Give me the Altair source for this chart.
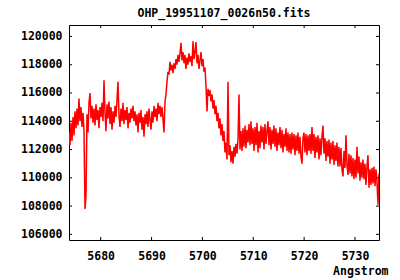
import altair as alt
import numpy as np
import pandas as pd

TITLE = "OHP_19951107_0026n50.fits"
X_TITLE = "Angstrom"

# linear dispersion of the spectrum (start wavelength and step, Angstrom)
WAVE_START = 5673.77
WAVE_STEP = 0.1966

FLUX = [
    113200, 112300, 113900, 112600, 114300, 113000, 114700, 113500, 114900, 113700,
    115600, 114000, 115000, 113600, 114600, 113300, 107800, 108700, 114500, 113200,
    115300, 116000, 114200, 115100, 113900, 114900, 113700, 115200, 114100, 114800,
    113500, 115000, 114300, 115300, 114000, 116900, 114600, 113300, 115200, 114200,
    115400, 113800, 115000, 113400, 114700, 113900, 115100, 114300, 115500, 116800,
    114400, 113600, 114900, 114000, 115300, 113800, 114800, 114100, 115000, 113500,
    114600, 113900, 114900, 114200, 115100, 114000, 114700, 113700, 114500, 113200,
    114600, 113900, 114800, 113400, 114300, 112900, 114500, 113800, 114700, 113600,
    114900, 114100, 113400, 114700, 113900, 115100, 114300, 114900, 114000, 115300,
    114500, 115100, 114300, 115000, 114200, 113200, 115400, 115900, 116800, 117500,
    117300, 118200, 117600, 118000, 117400, 118100, 117700, 118400, 118000, 118700,
    118200, 118800, 119550, 118300, 118900, 118100, 118700, 117700, 118500, 118000,
    118800, 118200, 118600, 117900, 119650, 118400, 118900, 119600, 118100, 118700,
    117700, 118300, 118900, 117900, 118400, 117500, 117800, 116500, 114700, 116300,
    115800, 116200, 115400, 115900, 114900, 115500, 114500, 115100, 114000, 114600,
    113500, 114200, 113000, 113800, 112600, 113300, 111800, 112500, 111300, 116800,
    111600, 112300, 111100, 111900, 111000, 112200, 111500, 112400, 111700, 112700,
    115900, 112000, 113300, 111900, 113500, 112200, 113700, 112100, 113400, 112500,
    113800, 112300, 114000, 112400, 113500, 111900, 113600, 112300, 113900, 111800,
    113300, 112100, 113700, 112500, 113600, 112000, 113800, 112400, 113300, 114000,
    112300, 113600, 112000, 113400, 112400, 113700, 112200, 113500, 111900, 113200,
    112300, 113600, 112100, 113400, 111800, 113100, 112200, 113500, 111900, 113200,
    111800, 113100, 111700, 113200, 112000, 113100, 111600, 113000, 111900, 113200,
    111700, 112900, 111500, 111000, 112800, 113200, 111800, 113100, 111600, 113000,
    111900, 113100, 111700, 113600, 111900, 113100, 111400, 112900, 111800, 113000,
    111300, 112800, 111600, 112900, 113700, 111700, 112800, 111200, 112600, 111500,
    112700, 111000, 112500, 111300, 112600, 110900, 112300, 111200, 112500, 110800,
    112200, 110800, 112100, 110600, 110100, 111900, 110700, 113000, 110900, 110200,
    111700, 110300, 111600, 110100, 111400, 109900, 111300, 110000, 112200, 110300,
    111500, 109800, 111100, 110000, 111300, 109900, 111000, 109500, 110800, 111600,
    109300, 110600, 109500, 110700, 109600, 110800, 109400, 110600, 109700, 108100,
    110300,
]

X_TICKS = [5680, 5690, 5700, 5710, 5720, 5730]
Y_TICKS = [106000, 108000, 110000, 112000, 114000, 116000, 118000, 120000]
X_DOMAIN = [5673.77, 5734.72]
Y_DOMAIN = [105600, 120810]

W, H = 310, 215
TICK_LEN = 3
FONT = "DejaVu Sans Mono"
FS = 11.5

spec = pd.DataFrame({
    "wave": WAVE_START + WAVE_STEP * np.arange(len(FLUX)),
    "flux": FLUX,
})
xt = pd.DataFrame({"wave": X_TICKS})
yt = pd.DataFrame({"flux": Y_TICKS})

xscale = alt.Scale(domain=X_DOMAIN, nice=False, zero=False)
yscale = alt.Scale(domain=Y_DOMAIN, nice=False, zero=False)

x_axis = alt.Axis(
    values=X_TICKS, title=X_TITLE, format="d", ticks=False, domain=False,
    grid=False, labelPadding=10, labelOverlap=False,
    labelExpr="datum.label + '\u00a0'",
    titleAlign="right", titleX=319, titleY=34, titleBaseline="alphabetic")
y_axis = alt.Axis(
    values=Y_TICKS, title=None, format="d", ticks=False, domain=False,
    grid=False, labelPadding=7, labelOverlap=False, labelBaseline="middle")

line = alt.Chart(spec).mark_line(color="#ff0000", strokeWidth=1.5, clip=True).encode(
    x=alt.X("wave:Q", scale=xscale, axis=x_axis),
    y=alt.Y("flux:Q", scale=yscale, axis=y_axis),
)

rule = dict(color="black", strokeWidth=1)
bottom = alt.Chart(xt).mark_rule(**rule).encode(
    x=alt.X("wave:Q", scale=xscale, axis=x_axis), y=alt.value(H), y2=alt.value(H - TICK_LEN))
top = alt.Chart(xt).mark_rule(**rule).encode(
    x=alt.X("wave:Q", scale=xscale, axis=x_axis), y=alt.value(0), y2=alt.value(TICK_LEN))
left = alt.Chart(yt).mark_rule(**rule).encode(
    y=alt.Y("flux:Q", scale=yscale, axis=y_axis), x=alt.value(0), x2=alt.value(TICK_LEN))
right = alt.Chart(yt).mark_rule(**rule).encode(
    y=alt.Y("flux:Q", scale=yscale, axis=y_axis), x=alt.value(W), x2=alt.value(W - TICK_LEN))

chart = alt.layer(line, bottom, top, left, right).properties(
    width=W, height=H,
    title=alt.TitleParams(text=TITLE, baseline="alphabetic", offset=7, dy=11),
    autosize=alt.AutoSizeParams(type="none"),
    padding={"left": 69, "top": 25, "right": 21, "bottom": 40},
    background="white",
).configure_view(
    stroke="black", strokeWidth=1
).configure_axis(
    labelFont=FONT, labelFontSize=FS, labelFontWeight="bold", labelColor="black",
    titleFont=FONT, titleFontSize=FS, titleFontWeight="bold", titleColor="black",
    labelOverlap=False,
).configure_title(
    font=FONT, fontSize=FS, fontWeight="bold", color="black", anchor="middle",
)

chart.save("out.html", embed_options={"renderer": "svg", "actions": False})
